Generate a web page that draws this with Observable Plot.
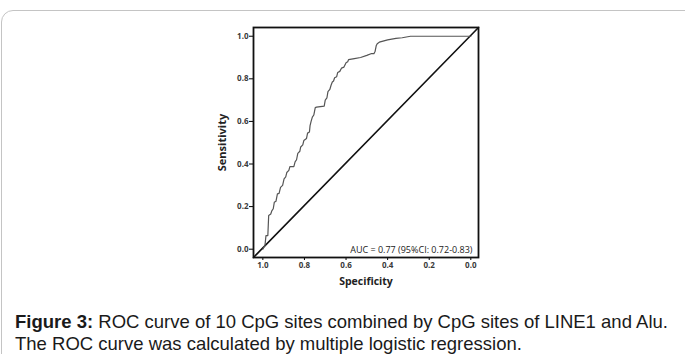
<!DOCTYPE html>
<html>
<head>
<meta charset="utf-8">
<script src="https://cdn.jsdelivr.net/npm/d3@7"></script>
<script src="https://cdn.jsdelivr.net/npm/@observablehq/plot@0.6"></script>
<style>
  html, body { margin: 0; padding: 0; background: #fff; width: 685px; height: 354px; overflow: hidden; }
  #box { position: absolute; left: 1px; top: 10px; width: 720px; height: 400px; border: 1px solid #c4c4c4; border-top-left-radius: 12px; }
  #chart { position: absolute; left: 0; top: 0; }
  #caption { position: absolute; left: 15px; top: 311px; font-family: "Liberation Sans", Arial, sans-serif; font-size: 18.5px; line-height: 22px; color: #1a1a1a; white-space: nowrap; }
</style>
</head>
<body>
<div id="box"></div>
<div id="chart"></div>
<div id="caption"><b>Figure 3:</b> ROC curve of 10 CpG sites combined by CpG sites of LINE1 and Alu.<br>The ROC curve was calculated by multiple logistic regression.</div>
<script>
// ROC curve
const specificity = [1.0, 0.995, 0.99, 0.985, 0.976, 0.972, 0.962, 0.957, 0.95, 0.945, 0.937, 0.93, 0.922, 0.915, 0.905, 0.898, 0.89, 0.885, 0.875, 0.87, 0.851, 0.845, 0.838, 0.832, 0.822, 0.818, 0.808, 0.803, 0.79, 0.785, 0.776, 0.773, 0.768, 0.762, 0.755, 0.748, 0.742, 0.705, 0.70, 0.692, 0.687, 0.678, 0.672, 0.666, 0.66, 0.655, 0.645, 0.64, 0.63, 0.622, 0.61, 0.60, 0.592, 0.588, 0.56, 0.53, 0.50, 0.48, 0.466, 0.46, 0.455, 0.45, 0.44, 0.40, 0.36, 0.33, 0.29, 0.0];
const sensitivity = [0.0, 0.01, 0.017, 0.064, 0.064, 0.158, 0.165, 0.18, 0.19, 0.22, 0.225, 0.26, 0.262, 0.29, 0.30, 0.33, 0.34, 0.36, 0.37, 0.388, 0.388, 0.41, 0.42, 0.45, 0.46, 0.48, 0.49, 0.51, 0.52, 0.545, 0.55, 0.58, 0.60, 0.62, 0.63, 0.665, 0.667, 0.672, 0.70, 0.71, 0.74, 0.75, 0.77, 0.785, 0.79, 0.805, 0.81, 0.83, 0.835, 0.85, 0.855, 0.875, 0.88, 0.89, 0.895, 0.90, 0.91, 0.918, 0.918, 0.93, 0.955, 0.965, 0.972, 0.983, 0.99, 0.993, 1.0, 1.0];

// axis domains and ticks
const xDomain = [1.045, -0.037];
const yDomain = [-0.039, 1.041];
const xTicks = [1.0, 0.8, 0.6, 0.4, 0.2, 0.0];
const yTicks = [0.0, 0.2, 0.4, 0.6, 0.8, 1.0];

// reference (chance) line runs corner to corner of the plot frame
const refX = [xDomain[0], xDomain[1]];
const refY = [yDomain[0], yDomain[1]];

const xLabel = "Specificity";
const yLabel = "Sensitivity";
const aucLabel = "AUC = 0.77 (95%CI: 0.72-0.83)";

const roc = specificity.map((s, i) => ({spec: s, sens: sensitivity[i]}));
const ref = refX.map((s, i) => ({spec: s, sens: refY[i]}));

const tickFont = {fontSize: 8, fontWeight: "bold", fill: "#3a3a3a"};

const chart = Plot.plot({
  width: 685,
  height: 300,
  marginLeft: 253,
  marginRight: 207,
  marginTop: 27,
  marginBottom: 43,
  style: {fontFamily: "'Open Sans', 'DejaVu Sans', sans-serif", background: "transparent"},
  x: {domain: xDomain, ticks: xTicks},
  y: {domain: yDomain, ticks: yTicks},
  marks: [
    Plot.axisX({ticks: xTicks, tickFormat: d3.format(".1f"), tickSize: 3, tickPadding: 2, label: null, ...tickFont}),
    Plot.axisY({ticks: yTicks, tickFormat: d3.format(".1f"), tickSize: 4, tickPadding: 1, label: null, ...tickFont}),
    Plot.line(ref, {x: "spec", y: "sens", stroke: "#111", strokeWidth: 1.6}),
    Plot.line(roc, {x: "spec", y: "sens", stroke: "#555", strokeWidth: 1.2}),
    Plot.frame({stroke: "#111", strokeWidth: 1.8}),
    Plot.text([aucLabel], {frameAnchor: "bottom-right", dx: -6, dy: -5, textAnchor: "end", fontSize: 9, fill: "#222"}),
    Plot.text([xLabel], {frameAnchor: "bottom", dy: 27, fontSize: 10.5, fontWeight: "bold", fill: "#222"}),
    Plot.text([yLabel], {frameAnchor: "left", dx: -31, rotate: -90, textAnchor: "middle", fontSize: 11, fontWeight: "bold", fill: "#222"})
  ]
});
document.getElementById("chart").appendChild(chart);
</script>
</body>
</html>
